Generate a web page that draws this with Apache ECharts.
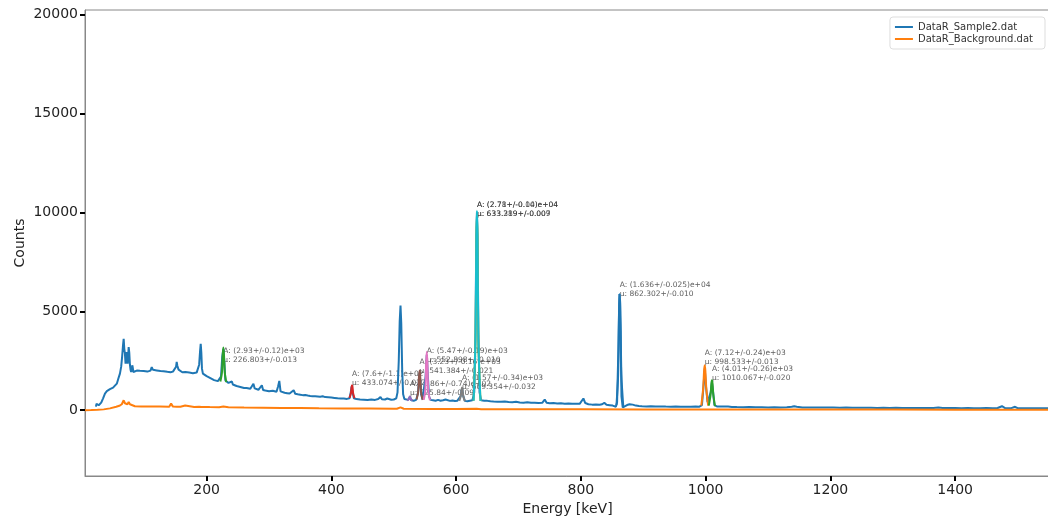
<!DOCTYPE html>
<html>
<head>
<meta charset="utf-8">
<script src="https://cdn.jsdelivr.net/npm/echarts@6/dist/echarts.min.js"></script>
<style>
    html, body { margin: 0; padding: 0; background: #fff; }
    #chart { width: 1048px; height: 516px; }
</style>
</head>
<body>
<div id="chart"></div>
<script>
// measured spectrum [energy keV, counts]
var sample2 = [
    [22.5,180],[23.5,320],[25,300],[27,250],[29,240],[31,380],[34,600],[37,840],[40,960],[42,1010],[45,1060],[48,1110],[50,1140],
    [53,1220],[56,1340],[58.5,1600],[61,1850],[63,2200],[64.5,2700],[66,3300],[67,3610],[68,3100],[69,2860],[70,2350],[71,2600],
    [72,2940],[73.4,2350],[74.3,2800],[75,3190],[76,2900],[77,2300],[78,2050],[79,1930],[80,2100],[81,2270],[82.6,1930],[85,1950],
    [88,2000],[90,1960],[93,1990],[96,1930],[99,1980],[102,2000],[105,1950],[108,2050],[110,2000],[112,2180],[114,2040],[117,1970],
    [120,2010],[123,1950],[126,1980],[128,1930],[131,1970],[134,1900],[137,1940],[140,1880],[142,1920],[144,1880],[146,1950],
    [149,2000],[151,2200],[152,2440],[153,2250],[155,2050],[156,2100],[158,1950],[161,1920],[164,1960],[166,1930],[169,1880],
    [172,1900],[175,1850],[178,1870],[181,1830],[184,1900],[186,1950],[188,2300],[189.5,3000],[190.5,3360],[191.5,2900],[192.5,2100],
    [194,1850],[197,1780],[200,1720],[203,1680],[206,1620],[209,1560],[212,1520],[215,1500],[218,1470],[221,1450],[223,1700],
    [225,2700],[226.8,3100],[228.5,2400],[230,1500],[232,1400],[235,1380],[238,1330],[240.5,1450],[242,1300],[245,1260],[248,1220],
    [251,1190],[254,1175],[257,1150],[260,1120],[262,1180],[264,1120],[267,1090],[270,1080],[273,1150],[275,1340],[277,1100],
    [280,1060],[283,1030],[286,1080],[288.5,1260],[290.5,1020],[294,990],[297,1010],[300,960],[303,950],[306,980],[309,920],
    [312,930],[314.5,1200],[316.5,1480],[318.5,950],[321,900],[325,880],[329,860],[333,840],[336,870],[339.5,1010],[342,830],
    [346,800],[350,780],[354,760],[358,770],[362,740],[366,720],[370,705],[374,700],[378,690],[382,680],[386,700],[390,660],
    [395,650],[400,640],[405,620],[410,600],[415,590],[420,590],[425,570],[429,600],[431,900],[432.5,1200],[434,900],[436,600],
    [440,560],[446,540],[452,530],[458,520],[464,540],[470,520],[475,560],[478.7,670],[481,550],[486,540],[489.5,590],[492,520],
    [496,530],[500,540],[504,600],[506,900],[508,2500],[509.5,4500],[510.8,5290],[512,4400],[513.5,2000],[515,800],[517,560],
    [520,500],[523,520],[525.8,680],[528,500],[532,480],[536,520],[539,900],[540.5,1600],[541.4,1900],[542.5,1500],[544,800],
    [546,540],[549,600],[551,1700],[552.9,2800],[554.5,1800],[556.5,700],[559,520],[563,500],[567,480],[571,520],[575,480],
    [579,500],[583,540],[586,480],[590,470],[594,490],[598,460],[602,480],[605,470],[607,700],[609.4,1100],[611.5,700],[614,470],
    [618,450],[622,480],[626,500],[629,900],[631,4000],[632.3,8800],[633.3,10000],[634.3,8800],[635.6,4000],[637.5,900],[640,500],
    [645,480],[650,470],[655,450],[660,440],[666,430],[672,420],[678,440],[684,410],[690,400],[696,420],[702,390],[708,380],
    [714,400],[720,370],[726,380],[732,360],[738,370],[742,540],[745,380],[750,350],[756,360],[762,340],[768,350],[774,330],
    [780,340],[786,320],[792,330],[798,320],[801,420],[804,590],[807,360],[812,300],[818,280],[824,290],[830,270],[834,300],
    [837.5,370],[841,270],[846,250],[851,230],[856,170],[858,400],[860,3000],[861.6,5880],[863.5,4000],[865,700],[867,135],
    [870,220],[874,260],[878,300],[880,340],[883,280],[888,230],[893,210],[898,200],[905,190],[912,200],[920,185],[928,190],
    [936,180],[944,175],[952,180],[960,170],[968,175],[976,170],[984,180],[990,175],[994,250],[996,1000],[998.5,2100],[1000.5,1200],
    [1003,400],[1006,400],[1008,900],[1010,1400],[1012,900],[1014,250],[1018,190],[1024,180],[1030,190],[1033,290],[1036,180],
    [1042,160],[1050,155],[1060,150],[1070,155],[1080,145],[1090,150],[1100,140],[1110,145],[1120,140],[1130,150],[1138,170],
    [1142,200],[1146,175],[1155,140],[1165,135],[1175,140],[1185,130],[1195,135],[1205,130],[1215,125],[1225,130],[1235,120],
    [1245,125],[1255,120],[1265,125],[1275,115],[1285,120],[1295,115],[1305,120],[1315,110],[1325,115],[1335,110],[1345,115],
    [1355,105],[1365,110],[1373,130],[1380,105],[1390,110],[1400,105],[1410,100],[1420,105],[1430,100],[1440,100],[1450,105],
    [1460,100],[1468,110],[1475,200],[1480,105],[1490,100],[1496,170],[1500,100],[1510,95],[1520,100],[1530,95],[1540,95],[1552,95]
];

// background spectrum
var background = [
    [5,0],[15,5],[25,15],[35,40],[45,90],[55,170],[60,220],[64,300],[67,500],[69,350],[71,280],[73,300],[75,420],[77,300],
    [80,230],[85,200],[95,190],[110,185],[125,180],[140,175],[143,330],[146,180],[152,170],[155,270],[158,170],[165.6,235],
    [168,165],[180,160],[188,170],[190,270],[192,165],[205,155],[220,150],[226.8,180],[235,145],[260,135],[290,125],[320,115],
    [350,105],[380,95],[420,85],[460,78],[500,72],[505,70],[510.8,140],[516,70],[560,62],[600,55],[633,70],[640,52],[700,48],
    [800,42],[900,38],[1000,35],[1100,32],[1200,30],[1300,28],[1400,26],[1500,25],[1552,25]
];

// peak fits
var fit226 = [[222,1450],[224.5,1900],[225.8,2800],[226.8,3170],[227.8,2800],[229.1,1900],[231.5,1420]];
var fit433 = [[429,620],[431.3,850],[432.3,1150],[433.1,1260],[433.9,1150],[434.9,850],[437,600]];
var fit526 = [[521.5,500],[524.3,560],[525.2,640],[525.8,690],[526.5,640],[527.5,560],[530,500]];
var fit541 = [[536.5,540],[539,900],[540.4,1700],[541.4,2000],[542.4,1700],[543.8,900],[546.5,520]];
var fit553 = [[548,520],[550.5,1000],[551.9,2400],[552.9,2950],[553.9,2400],[555.3,1000],[558,500]];
var fit609 = [[605,470],[607.3,700],[608.5,1000],[609.4,1150],[610.3,1000],[611.5,700],[614,450]];
var fit633a = [[628,480],[631,3500],[632.3,8500],[633.3,9900],[634.3,8500],[635.6,3500],[639,460]];
var fit633b = [[628,480],[631,3600],[632.3,8700],[633.3,10080],[634.3,8700],[635.6,3600],[639,460]];
var fit862 = [[857,250],[859.7,1800],[861.2,5000],[862.3,5880],[863.4,5000],[864.9,1800],[868,150]];
var fit998 = [[993,230],[996,1100],[997.5,2000],[998.5,2270],[999.5,2000],[1001,1100],[1004,230]];
var fit1010 = [[1005,230],[1008,800],[1009.2,1350],[1010.1,1510],[1011,1350],[1012.2,800],[1015,200]];

// fit annotations
var annotEnergy = [226.8, 433.07, 525.84, 541.38, 552.9, 609.35, 633.29, 633.32, 862.3, 998.53, 1010.07];
var annotCount = [2750, 1590, 1080, 2190, 2770, 1410, 10160, 10160, 6120, 2650, 1865];
var annotA = ['(2.93+/-0.12)e+03', '(7.6+/-1.1)e+02', '(1.86+/-0.74)e+02', '(3.23+/-0.16)e+03', '(5.47+/-0.19)e+03',
    '(1.57+/-0.34)e+03', '(2.78+/-0.04)e+04', '(2.71+/-0.10)e+04', '(1.636+/-0.025)e+04', '(7.12+/-0.24)e+03', '(4.01+/-0.26)e+03'];
var annotMu = ['226.803+/-0.013', '433.074+/-0.022', '525.84+/-0.09', '541.384+/-0.021', '552.898+/-0.010',
    '609.354+/-0.032', '633.289+/-0.007', '633.319+/-0.009', '862.302+/-0.010', '998.533+/-0.013', '1010.067+/-0.020'];

var xTicks = [200, 400, 600, 800, 1000, 1200, 1400];
var yTicks = [0, 5000, 10000, 15000, 20000];

var chart = echarts.init(document.getElementById('chart'));

var fits = [fit226, fit433, fit526, fit541, fit553, fit609, fit633a, fit633b, fit862, fit998, fit1010];
var fitColors = ['#2ca02c', '#d62728', '#9467bd', '#8c564b', '#e377c2', '#7f7f7f', '#bcbd22', '#17becf', '#1f77b4', '#ff7f0e', '#2ca02c'];

var series = [
    {
        name: 'DataR_Sample2.dat',
        type: 'line',
        data: sample2,
        showSymbol: false,
        color: '#1f77b4',
        lineStyle: {width: 2}
    },
    {
        name: 'DataR_Background.dat',
        type: 'line',
        data: background,
        showSymbol: false,
        color: '#ff7f0e',
        lineStyle: {width: 2}
    }
];

fits.forEach(function (f, i) {
    series.push({
        name: 'fit' + i,
        type: 'line',
        data: f,
        showSymbol: false,
        smooth: 0.3,
        color: fitColors[i],
        lineStyle: {width: 2}
    });
});

series.push({
    name: 'annotations',
    type: 'scatter',
    symbolSize: 0,
    silent: true,
    data: annotEnergy.map(function (e, i) { return [e, annotCount[i]]; }),
    label: {
        show: true,
        position: 'right',
        distance: 0,
        fontFamily: 'DejaVu Sans',
        fontSize: 7.5,
        lineHeight: 9,
        color: '#333',
        formatter: function (p) {
            return 'A: ' + annotA[p.dataIndex] + '\nμ: ' + annotMu[p.dataIndex];
        }
    }
});

var plain = function (v) { return String(v); };

var option = {
    animation: false,
    textStyle: {fontFamily: 'DejaVu Sans'},
    grid: {left: 85, right: -2, top: 10, bottom: 40, show: true, borderColor: '#888', borderWidth: 1, outerBoundsMode: 'none'},
    legend: {
        data: ['DataR_Sample2.dat', 'DataR_Background.dat'],
        orient: 'vertical',
        right: 3,
        top: 17,
        padding: [5, 12, 5, 5],
        itemGap: 2,
        itemWidth: 18,
        itemHeight: 2,
        icon: 'rect',
        borderColor: '#ddd',
        borderWidth: 1,
        borderRadius: 3,
        backgroundColor: 'rgba(255,255,255,0.8)',
        textStyle: {fontSize: 10, color: '#333'}
    },
    xAxis: {
        type: 'value',
        min: 5,
        max: 1552,
        name: 'Energy [keV]',
        nameLocation: 'middle',
        nameGap: 23,
        nameTextStyle: {fontSize: 14, color: '#222'},
        splitLine: {show: false},
        axisLine: {onZero: false, lineStyle: {color: '#888', width: 1}},
        axisTick: {customValues: xTicks, length: 5, lineStyle: {color: '#000', width: 2}},
        axisLabel: {customValues: xTicks, formatter: plain, fontSize: 14, color: '#222', margin: 7}
    },
    yAxis: {
        type: 'value',
        min: -3330,
        max: 20240,
        name: 'Counts',
        nameLocation: 'middle',
        nameGap: 58,
        nameMoveOverlap: false,
        nameTextStyle: {fontSize: 14, color: '#222'},
        splitLine: {show: false},
        axisLine: {onZero: false, lineStyle: {color: '#888', width: 1}},
        axisTick: {customValues: yTicks, length: 5, lineStyle: {color: '#000', width: 2}},
        axisLabel: {customValues: yTicks, formatter: plain, fontSize: 14, color: '#222', margin: 7}
    },
    series: series
};

chart.setOption(option);
</script>
</body>
</html>
